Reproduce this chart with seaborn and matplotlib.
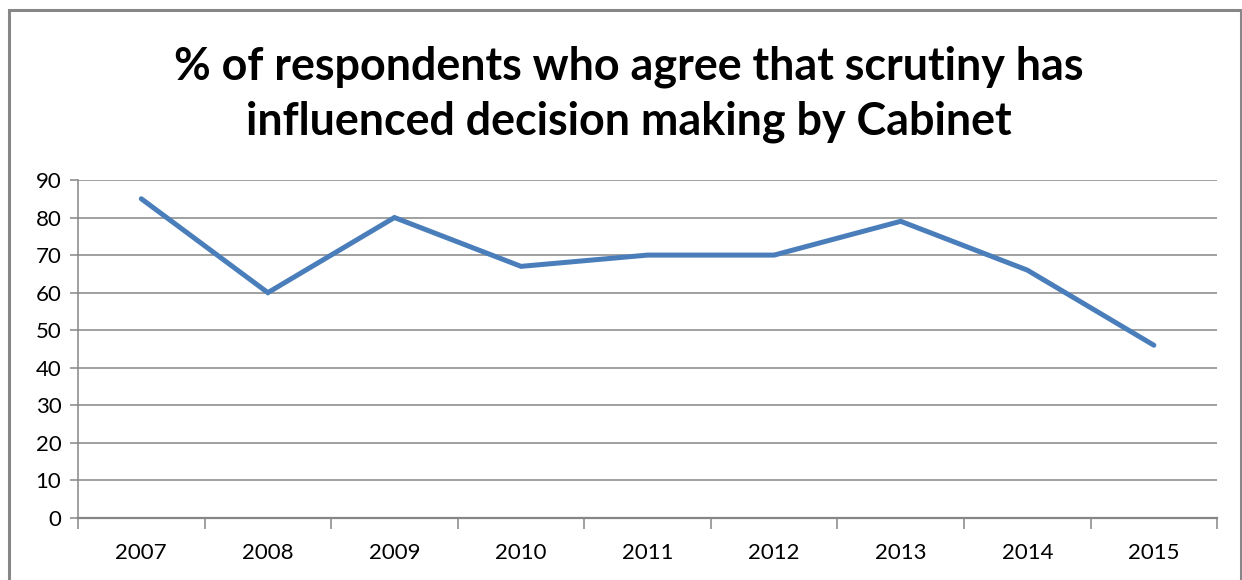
import matplotlib
matplotlib.use("Agg")
import matplotlib.pyplot as plt
from matplotlib.patches import Rectangle
import seaborn as sns
import pandas as pd

years = ["2007", "2008", "2009", "2010", "2011", "2012", "2013", "2014", "2015"]
agree_pct = [85, 60, 80, 67, 70, 70, 79, 66, 46]
y_ticks = [0, 10, 20, 30, 40, 50, 60, 70, 80, 90]
title = "% of respondents who agree that scrutiny has\ninfluenced decision making by Cabinet"

sns.set_theme(style="white")
plt.rcParams["font.family"] = ["Lato", "DejaVu Sans"]

df = pd.DataFrame({"year": years, "pct": agree_pct})

fig = plt.figure(figsize=(12.42, 5.8), dpi=100)
ax = fig.add_axes([0.0628, 0.1069, 0.9172, 0.5828])

grid_col = "#868686"
sns.lineplot(data=df, x="year", y="pct", ax=ax, color="#4A7EBB", linewidth=3.6,
             solid_joinstyle="miter", sort=False)

ax.set_xlim(-0.5, len(years) - 0.5)
ax.set_ylim(0, 90)
ax.set_yticks(y_ticks)
ax.set_yticklabels([str(v) for v in y_ticks])
ax.set_xticks(range(len(years)))
ax.set_xticklabels(years)
ax.set_xlabel("")
ax.set_ylabel("")

# horizontal gridlines
for v in y_ticks:
    ax.axhline(v, color=grid_col, linewidth=1.1, zorder=0)

for side in ["top", "right"]:
    ax.spines[side].set_visible(False)
ax.spines["left"].set_color(grid_col)
ax.spines["left"].set_linewidth(1.1)
ax.spines["bottom"].set_color(grid_col)
ax.spines["bottom"].set_linewidth(1.6)

ax.tick_params(axis="y", which="both", left=True, length=6, width=1.1,
               color=grid_col, labelsize=16, pad=6, labelcolor="black")
# x tick marks sit between categories, labels at category centres
ax.tick_params(axis="x", which="major", bottom=False, labelsize=16, pad=12,
               labelcolor="black")
ax.set_xticks([i - 0.5 for i in range(len(years) + 1)], minor=True)
ax.tick_params(axis="x", which="minor", bottom=True, length=8, width=1.1,
               color=grid_col)

fig.text(0.5064, 0.838, title, ha="center", va="center", fontsize=32.3,
         fontweight="bold", linespacing=1.38, color="black")

# chart area border
fig.patches.append(Rectangle((9 / 1242, -0.05), (1241 - 9) / 1242, 1.05 - 10 / 580,
                             transform=fig.transFigure, fill=False,
                             edgecolor="#878787", linewidth=2.2))

fig.savefig("out.png", dpi=100, facecolor="white")
